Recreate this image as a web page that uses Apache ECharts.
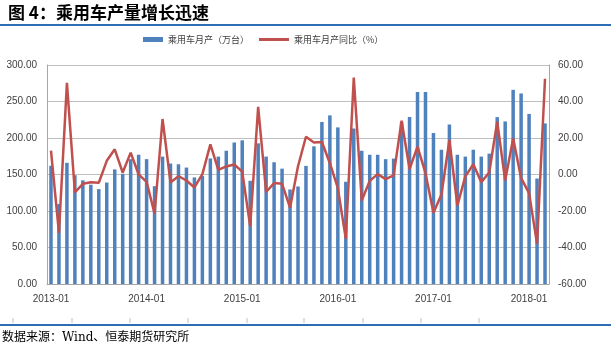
<!DOCTYPE html>
<html>
<head>
<meta charset="utf-8">
<script src="https://cdn.jsdelivr.net/npm/echarts@6/dist/echarts.min.js"></script>
<style>
html, body { margin: 0; padding: 0; background: #fff; }
#chart { width: 611px; height: 352px; }
</style>
</head>
<body>
<div id="chart"></div>
<script>
/* months, 2013-01 .. 2018-03 */
var months = [
    '2013-01','2013-02','2013-03','2013-04','2013-05','2013-06','2013-07','2013-08','2013-09','2013-10','2013-11','2013-12',
    '2014-01','2014-02','2014-03','2014-04','2014-05','2014-06','2014-07','2014-08','2014-09','2014-10','2014-11','2014-12',
    '2015-01','2015-02','2015-03','2015-04','2015-05','2015-06','2015-07','2015-08','2015-09','2015-10','2015-11','2015-12',
    '2016-01','2016-02','2016-03','2016-04','2016-05','2016-06','2016-07','2016-08','2016-09','2016-10','2016-11','2016-12',
    '2017-01','2017-02','2017-03','2017-04','2017-05','2017-06','2017-07','2017-08','2017-09','2017-10','2017-11','2017-12',
    '2018-01','2018-02','2018-03'
];

/* 乘用车月产（万台） */
var output = [
    162, 109.5, 166, 149, 142, 136, 130, 139, 157, 151, 171, 177,
    171, 134, 174.5, 165, 164, 159.5, 146, 148, 172, 174.5, 182.7, 194,
    196.8, 141.4, 192.7, 174.5, 166.8, 158, 129.5, 133.6, 161.8, 188.6, 222, 231,
    214.5, 140, 213, 182.7, 177, 177, 171, 171.8, 222, 228.6, 263, 263,
    207, 184, 218.6, 177, 174.5, 184, 174.5, 178.6, 228.6, 222.7, 266, 261,
    233, 144.5, 220
];

/* 乘用车月产同比（%） */
var yoy = [
    13.1, -32, 50.2, -9.8, -5.1, -4.2, -4.5, 7.5, 13.8, 1.1, 12, 0,
    -4, -21.5, 30.4, -4.4, -0.9, -3.3, -7.1, 0.2, 16.5, 2.5, 4.4, 5.5,
    1.6, -28.4, 37.1, -9.6, -4.7, -5.1, -18.2, 4.5, 20.7, 17.5, 17.8, 6.2,
    -7.5, -35.3, 53.1, -14.2, -3.5, 0.2, -2.5, -0.5, 29.5, 3, 15.3, 0.7,
    -21, -11, 18.9, -17, -1, 5.6, -4.2, 1.1, 28.9, -3.3, 19.8, -2,
    -10.2, -38, 52.5
];

var leftTicks = { min: 0, max: 300, step: 50 };
var rightTicks = { min: -60, max: 60, step: 20 };

var title_text = '图 4：乘用车产量增长迅速';
var source_text = '数据来源：Wind、恒泰期货研究所';
var bar_name = '乘用车月产（万台）';
var line_name = '乘用车月产同比（%）';

var chart = document.getElementById('chart');
var myChart = echarts.init(chart);

/* little marks above the bottom rule */
var footMarks = [13, 72, 130, 188, 247, 304, 363, 421, 479];
var graphics = [
    {
        type: 'text', left: 8, top: 4,
        style: { text: title_text, font: 'bold 17px "Noto Sans CJK SC", sans-serif', fill: '#000' }
    },
    {
        type: 'line', shape: { x1: 0, y1: 25, x2: 611, y2: 25 },
        style: { stroke: '#2E6DB4', lineWidth: 2 }
    },
    {
        type: 'line', shape: { x1: 0, y1: 325, x2: 611, y2: 325 },
        style: { stroke: '#2E6DB4', lineWidth: 2 }
    },
    {
        type: 'text', left: 2, top: 332,
        style: { text: source_text, font: '12px "DejaVu Serif", "Noto Sans CJK SC", serif', fill: '#000' }
    }
];
for (var i = 0; i < footMarks.length; i++) {
    graphics.push({
        type: 'line', shape: { x1: footMarks[i], y1: 318, x2: footMarks[i], y2: 323 },
        style: { stroke: '#BFBFBF', lineWidth: 1 }
    });
}

var axisFont = { color: '#404040', fontSize: 10, fontFamily: '"Liberation Sans", Arial, sans-serif' };
var legendFont = { color: '#404040', fontSize: 9, fontFamily: '"Noto Sans CJK SC", sans-serif' };

option = {
    animation: false,
    graphic: graphics,
    legend: [
        {
            data: [bar_name],
            left: 143, top: 35, padding: 0,
            icon: 'rect', itemWidth: 20, itemHeight: 5,
            textStyle: legendFont
        },
        {
            data: [line_name],
            left: 259, top: 35, padding: 0,
            icon: 'rect', itemWidth: 30, itemHeight: 3,
            textStyle: legendFont
        }
    ],
    grid: { left: 47, right: 62, top: 65, bottom: 68 },
    xAxis: [
        {
            type: 'category',
            boundaryGap: true,
            data: months,
            axisLine: { lineStyle: { color: '#A6A6A6', width: 1 } },
            axisTick: { interval: 11, length: 4, lineStyle: { color: '#A6A6A6' } },
            axisLabel: Object.assign({ interval: 11, margin: 10 }, axisFont),
            splitLine: { show: false }
        }
    ],
    yAxis: [
        {
            type: 'value',
            min: leftTicks.min, max: leftTicks.max, interval: leftTicks.step,
            axisLine: { show: true, lineStyle: { color: '#A6A6A6' } },
            axisTick: { show: false },
            axisLabel: Object.assign({ margin: 10, formatter: function (v) { return v.toFixed(2); } }, axisFont),
            splitLine: { lineStyle: { color: '#BFBFBF', width: 1 } }
        },
        {
            type: 'value',
            min: rightTicks.min, max: rightTicks.max, interval: rightTicks.step,
            axisLine: { show: true, lineStyle: { color: '#A6A6A6' } },
            axisTick: { show: false },
            axisLabel: Object.assign({ margin: 9, formatter: function (v) { return v.toFixed(2); } }, axisFont),
            splitLine: { show: false }
        }
    ],
    series: [
        {
            name: bar_name,
            type: 'bar',
            yAxisIndex: 0,
            barWidth: 3.5,
            itemStyle: { color: '#4F81BD' },
            data: output
        },
        {
            name: line_name,
            type: 'line',
            yAxisIndex: 1,
            symbol: 'none',
            lineStyle: { color: '#C0504D', width: 2.5 },
            itemStyle: { color: '#C0504D' },
            data: yoy
        }
    ]
};

myChart.setOption(option);
</script>
</body>
</html>
